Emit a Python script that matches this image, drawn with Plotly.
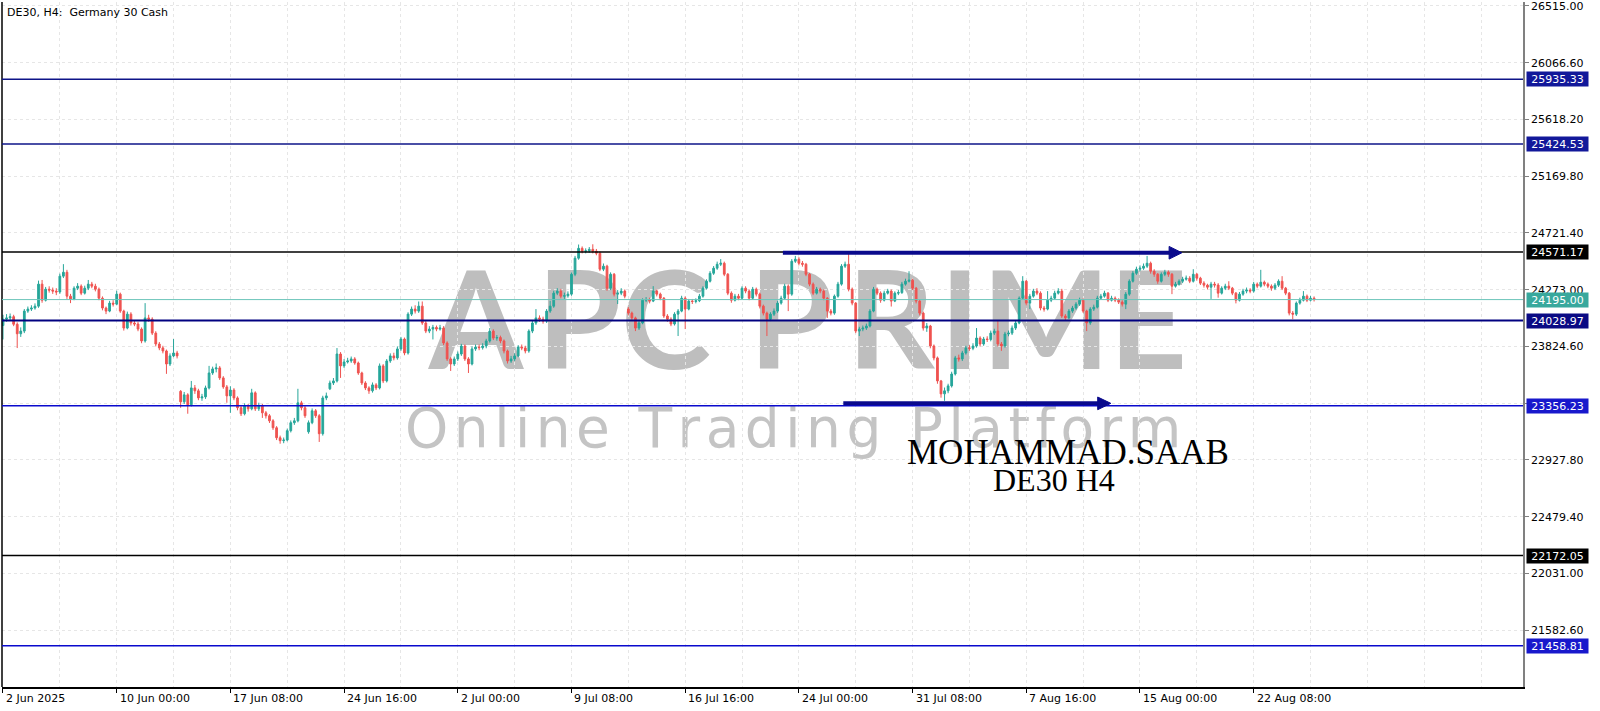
import plotly.graph_objects as go

# ---------------- data (DE30 H4, bar index 0 = 2 Jun 2025 16:00) ----------------
closes = [
    24040, 24050, 24060, 24000, 23925, 23946, 24104, 24120, 24128, 24143,
    24317, 24190, 24277, 24270, 24262, 24255, 24380, 24411, 24222, 24200,
    24285, 24301, 24246, 24285, 24317, 24301, 24277, 24206, 24128, 24104,
    24167, 24159, 24238, 24104, 23970, 24080, 24010, 24002, 23962, 23868,
    24050, 24040, 23930, 23844, 23813, 23789, 23686, 23750, 23773, 23750,
    23387, 23442, 23364, 23497, 23474, 23418, 23426, 23497, 23615, 23647,
    23655, 23576, 23505, 23434, 23480, 23418, 23340, 23293, 23356, 23332,
    23458, 23332, 23356, 23300, 23277, 23237, 23182, 23103, 23080, 23085,
    23159, 23222, 23237, 23379, 23340, 23277, 23222, 23316, 23277, 23135,
    23418, 23434, 23536, 23552, 23765, 23671, 23702, 23710, 23726, 23694,
    23615, 23536, 23497, 23474, 23521, 23497, 23671, 23552, 23710, 23750,
    23734, 23805, 23883, 23773, 24080, 24120, 24104, 24143, 24010, 23946,
    23962, 23975, 23962, 23970, 23852, 23726, 23686, 23726, 23765, 23828,
    23726, 23686, 23805, 23820, 23815, 23828, 23868, 23946, 23891, 23895,
    23868, 23789, 23710, 23726, 23750, 23820, 23813, 23789, 23946, 24010,
    24050, 24040, 24025, 24104, 24143, 24246, 24262, 24222, 24225, 24238,
    24395, 24522, 24600, 24577, 24580, 24592, 24577, 24561, 24435, 24459,
    24285, 24395, 24238, 24246, 24262, 24222, 24088, 24050, 23970, 24010,
    24190, 24195, 24183, 24262, 24238, 24206, 24065, 24040, 24002, 24080,
    24104, 24206, 24120, 24183, 24180, 24186, 24222, 24285, 24340, 24403,
    24443, 24474, 24482, 24395, 24246, 24190, 24222, 24206, 24285, 24262,
    24206, 24277, 24238, 24143, 24088, 24040, 24080, 24104, 24167, 24206,
    24301, 24238, 24498, 24514, 24482, 24474, 24395, 24317, 24246, 24277,
    24262, 24206, 24104, 24088, 24222, 24317, 24459, 24474, 24277, 24167,
    23946, 23962, 23970, 23986, 24104, 24277, 24246, 24190, 24246, 24262,
    24183, 24246, 24250, 24317, 24340, 24348, 24285, 24183, 24088, 23970,
    23986, 23828, 23734, 23552, 23450, 23474, 23513, 23607, 23734, 23726,
    23773, 23813, 23810, 23828, 23891, 23844, 23883, 23880, 23930, 23946,
    23844, 23828, 23923, 23930, 23970, 24010, 24206, 24340, 24167, 24222,
    24262, 24246, 24128, 24120, 24190, 24206, 24246, 24262, 24065, 24050,
    24104, 24128, 24159, 24190, 24104, 24010, 24120, 24135, 24206, 24222,
    24246, 24190, 24206, 24190, 24175, 24159, 24238, 24340, 24403, 24435,
    24443, 24459, 24482, 24419, 24395, 24340, 24395, 24411, 24395, 24301,
    24317, 24340, 24356, 24364, 24340, 24395, 24364, 24325, 24309, 24293,
    24317, 24310, 24246, 24285, 24301, 24285, 24246, 24190, 24238, 24262,
    24270, 24262, 24317, 24301, 24332, 24317, 24301, 24285, 24309, 24340,
    24285, 24246, 24088, 24080, 24167, 24190, 24222, 24190, 24206, 24195,
]
highs = [
    24075, 24080, 24085, 24075, 24015, 23975, 24120, 24140, 24150, 24165,
    24345, 24350, 24295, 24300, 24290, 24285, 24400, 24475, 24430, 24240,
    24300, 24325, 24315, 24305, 24350, 24335, 24320, 24290, 24220, 24140,
    24185, 24190, 24265, 24250, 24115, 24100, 24095, 24030, 24020, 23975,
    24167, 24075, 24055, 23945, 23860, 23830, 23800, 23770, 23883, 23790,
    23480, 23465, 23455, 23552, 23520, 23490, 23450, 23515, 23671, 23665,
    23690, 23670, 23590, 23520, 23510, 23495, 23430, 23355, 23375, 23370,
    23490, 23470, 23380, 23370, 23315, 23290, 23250, 23195, 23120, 23105,
    23175, 23240, 23260, 23490, 23395, 23355, 23240, 23335, 23330, 23290,
    23435, 23460, 23555, 23575, 23812, 23780, 23725, 23735, 23745, 23740,
    23705, 23625, 23550, 23510, 23540, 23535, 23690, 23685, 23725, 23770,
    23775, 23825, 23900, 23895, 24095, 24140, 24150, 24180, 24180, 24025,
    23985, 23995, 23990, 23995, 23985, 23865, 23740, 23745, 23785, 23845,
    23840, 23740, 23825, 23840, 23840, 23850, 23885, 23970, 23960, 23915,
    23910, 23880, 23800, 23750, 23770, 23835, 23840, 23830, 23960, 24030,
    24120, 24070, 24060, 24120, 24185, 24265, 24285, 24280, 24250, 24260,
    24410, 24540, 24630, 24615, 24600, 24610, 24632, 24595, 24575, 24480,
    24470, 24410, 24405, 24270, 24285, 24275, 24135, 24100, 24060, 24030,
    24205, 24215, 24210, 24301, 24275, 24250, 24215, 24080, 24055, 24095,
    24120, 24225, 24220, 24200, 24200, 24205, 24240, 24300, 24355, 24420,
    24460, 24495, 24515, 24495, 24405, 24260, 24240, 24240, 24300, 24300,
    24275, 24295, 24290, 24250, 24155, 24100, 24095, 24125, 24185, 24225,
    24320, 24315, 24515, 24540, 24530, 24500, 24485, 24405, 24330, 24295,
    24290, 24275, 24215, 24120, 24235, 24335, 24475, 24495, 24569, 24290,
    24175, 23980, 23990, 24005, 24120, 24295, 24290, 24260, 24265, 24280,
    24275, 24260, 24270, 24335, 24360, 24419, 24360, 24295, 24195, 24100,
    24010, 23995, 23840, 23745, 23560, 23500, 23530, 23625, 23750, 23760,
    23790, 23830, 23835, 23850, 23970, 23905, 23900, 23905, 23950, 23965,
    24025, 23860, 23940, 23950, 23990, 24030, 24220, 24380, 24350, 24240,
    24280, 24285, 24260, 24145, 24262, 24225, 24265, 24285, 24280, 24080,
    24120, 24145, 24175, 24210, 24205, 24115, 24135, 24155, 24225, 24240,
    24265, 24255, 24225, 24220, 24205, 24190, 24255, 24355, 24420, 24455,
    24465, 24480, 24540, 24495, 24435, 24405, 24410, 24430, 24425, 24405,
    24335, 24355, 24375, 24385, 24380, 24435, 24405, 24375, 24340, 24320,
    24335, 24335, 24325, 24300, 24320, 24340, 24295, 24255, 24255, 24280,
    24290, 24285, 24335, 24330, 24430, 24345, 24330, 24315, 24325, 24355,
    24380, 24295, 24255, 24105, 24180, 24210, 24262, 24235, 24225, 24220,
]
lows = [
    23880, 24020, 24030, 23985, 23812, 23900, 23930, 24090, 24105, 24115,
    24130, 24170, 24180, 24250, 24240, 24230, 24240, 24365, 24200, 24167,
    24190, 24270, 24230, 24235, 24270, 24285, 24260, 24190, 24110, 24080,
    24095, 24140, 24150, 24090, 23950, 23960, 23990, 23985, 23945, 23850,
    23855, 24020, 23915, 23825, 23795, 23770, 23608, 23670, 23740, 23730,
    23340, 23370, 23293, 23350, 23450, 23400, 23395, 23410, 23485, 23600,
    23620, 23560, 23490, 23380, 23300, 23400, 23320, 23275, 23280, 23310,
    23320, 23315, 23315, 23260, 23255, 23220, 23165, 23085, 23056, 23060,
    23075, 23145, 23205, 23225, 23320, 23260, 23135, 23210, 23260, 23070,
    23120, 23400, 23480, 23520, 23540, 23576, 23655, 23690, 23695, 23680,
    23600, 23520, 23480, 23450, 23460, 23480, 23485, 23535, 23540, 23695,
    23715, 23720, 23790, 23755, 23760, 24065, 24085, 24090, 23995, 23930,
    23930, 23880, 23945, 23950, 23835, 23710, 23631, 23670, 23710, 23750,
    23710, 23615, 23675, 23790, 23795, 23800, 23810, 23855, 23875, 23870,
    23850, 23770, 23690, 23695, 23710, 23740, 23795, 23770, 23775, 23930,
    23995, 24020, 24005, 24010, 24090, 24130, 24230, 24205, 24200, 24210,
    24225, 24380, 24510, 24560, 24560, 24565, 24560, 24545, 24420, 24420,
    24265, 24270, 24220, 24160, 24230, 24205, 24070, 24035, 23946, 23955,
    24000, 24175, 24165, 24175, 24220, 24190, 24050, 24020, 23985, 23990,
    23907, 24095, 23962, 24110, 24160, 24165, 24175, 24210, 24275, 24330,
    24390, 24430, 24460, 24380, 24230, 24170, 24180, 24190, 24195, 24245,
    24190, 24195, 24220, 24125, 24070, 23907, 24025, 24065, 24090, 24155,
    24195, 24104, 24225, 24485, 24465, 24455, 24380, 24300, 24230, 24235,
    24245, 24190, 24050, 24070, 24075, 24210, 24305, 24445, 24260, 24150,
    23930, 23907, 23945, 23955, 23975, 24095, 24230, 24170, 24180, 24235,
    24140, 24175, 24230, 24240, 24305, 24330, 24270, 24165, 24070, 23950,
    23940, 23810, 23715, 23530, 23420, 23395, 23455, 23500, 23595, 23705,
    23710, 23760, 23790, 23795, 23815, 23825, 23830, 23860, 23865, 23915,
    23825, 23790, 23815, 23905, 23915, 23955, 24000, 24195, 24150, 24120,
    24210, 24230, 24110, 24100, 24110, 24175, 24195, 24235, 24050, 24030,
    24040, 24090, 24115, 24145, 24090, 23946, 23995, 24105, 24125, 24195,
    24210, 24175, 24180, 24175, 24160, 24140, 24120, 24225, 24330, 24390,
    24420, 24430, 24445, 24400, 24375, 24320, 24330, 24380, 24375, 24238,
    24290, 24305, 24325, 24345, 24325, 24330, 24345, 24310, 24290, 24275,
    24200, 24290, 24210, 24235, 24270, 24270, 24230, 24165, 24180, 24225,
    24245, 24245, 24250, 24285, 24290, 24300, 24285, 24265, 24270, 24295,
    24270, 24230, 24070, 24040, 24065, 24155, 24180, 24175, 24180, 24180,
]
first_open = 23990
gap_opens = {50: 23470, 86: 23150, 92: 23490, 176: 24120}

x_label_idx = [0, 32, 64, 96, 128, 160, 192, 224, 256, 288, 320, 352]
x_label_txt = ["2 Jun 2025", "10 Jun 00:00", "17 Jun 08:00", "24 Jun 16:00",
               "2 Jul 00:00", "9 Jul 08:00", "16 Jul 16:00", "24 Jul 00:00",
               "31 Jul 08:00", "7 Aug 16:00", "15 Aug 00:00", "22 Aug 08:00"]
x_grid_idx = list(range(16, 428, 16))

y_ticks = [21582.60, 22031.00, 22479.40, 22927.80, 23376.20, 23824.60,
           24273.00, 24721.40, 25169.80, 25618.20, 26066.60, 26515.00]

levels = [25935.33, 25424.53, 24571.17, 24195.00, 24028.97, 23356.23, 22172.05, 21458.81]
level_line_colors = ["#0E1488", "#0E1488", "#000000", "#6CC5BA", "#000080", "#0A0ACD", "#000000", "#0A0ACD"]
level_box_colors = ["#12189A", "#12189A", "#000000", "#38A89D", "#0A0A84", "#1818CC", "#000000", "#1818CC"]
level_widths = [1.5, 1.5, 1.5, 1, 2, 1.5, 1.5, 1.5]

# arrows: (price level, start bar, arrow-head start bar, tip bar)
arrow_up = (24565, 219.5, 328.2, 331.8)
arrow_down = (23375, 236.5, 308.1, 311.8)
arrow_color = "#0A0A8C"
arrow_half_height = 50

# watermark text
wm_word = "APCPRIME"
wm_centers_px = [476, 579, 666, 791, 891, 960, 1046, 1148]
wm_sub = "Online Trading Platform"

# ---------------- helpers ----------------
PLOT_L, PLOT_W, PLOT_H = 2, 1521, 687


def px_x(px):
    return (px - PLOT_L) / PLOT_W


def px_y(py):
    return (PLOT_H - py) / PLOT_H


# ---------------- build ----------------
idx = list(range(len(closes)))
opens = []
for i in idx:
    if i in gap_opens:
        opens.append(gap_opens[i])
    elif i == 0:
        opens.append(first_open)
    else:
        opens.append(closes[i - 1])

fig = go.Figure()
fig.add_trace(go.Candlestick(
    x=idx, open=opens, high=highs, low=lows, close=closes,
    increasing=dict(line=dict(color="#26A69A", width=1), fillcolor="#26A69A"),
    decreasing=dict(line=dict(color="#EF5350", width=1), fillcolor="#EF5350"),
    whiskerwidth=0, showlegend=False, hoverinfo="skip",
))

shapes = []
# watermark letters (below data)
for ch, cx in zip(wm_word, wm_centers_px):
    shapes.append(dict(type="rect", xref="paper", yref="paper",
                       x0=px_x(cx - 70), x1=px_x(cx + 70), y0=px_y(370), y1=px_y(256),
                       line=dict(width=0), fillcolor="rgba(0,0,0,0)", layer="below",
                       label=dict(text=ch, textposition="middle center",
                                  font=dict(family="Lato", size=136, color="#BEBEBE", weight="bold"))))
# subtitle watermark, letter by letter with tracking
dv_widths = {"O": 0.787, "n": 0.634, "l": 0.278, "i": 0.278, "e": 0.615, " ": 0.318,
             "T": 0.611, "r": 0.411, "a": 0.613, "d": 0.635, "g": 0.635, "P": 0.603,
             "t": 0.392, "f": 0.352, "o": 0.612, "m": 0.974}
sub_size, sub_track, cursor = 55, 5.5, 405.0
for ch in wm_sub:
    w = dv_widths[ch] * sub_size
    if ch != " ":
        c = cursor + w / 2
        shapes.append(dict(type="rect", xref="paper", yref="paper",
                           x0=px_x(c - 30), x1=px_x(c + 30), y0=px_y(453), y1=px_y(393),
                           line=dict(width=0), fillcolor="rgba(0,0,0,0)", layer="below",
                           label=dict(text=ch, textposition="middle center",
                                      font=dict(family="DejaVu Sans", size=sub_size,
                                                color="#C4C4C4"))))
    cursor += w + sub_track
# left border
shapes.append(dict(type="line", xref="paper", yref="paper", x0=0, x1=0, y0=0, y1=1,
                   line=dict(color="#000000", width=1.5), layer="above"))
# level lines
for lv, lc, lw in zip(levels, level_line_colors, level_widths):
    shapes.append(dict(type="line", xref="paper", yref="y", x0=0, x1=1, y0=lv, y1=lv,
                       line=dict(color=lc, width=lw), layer="above"))
# arrows
for lvl, xs, xh, xt in (arrow_up, arrow_down):
    shapes.append(dict(type="line", xref="x", yref="y", x0=xs, x1=xh + 0.5, y0=lvl, y1=lvl,
                       line=dict(color=arrow_color, width=4), layer="above"))
    shapes.append(dict(type="path", xref="x", yref="y",
                       path=f"M {xh},{lvl - arrow_half_height} L {xt},{lvl} L {xh},{lvl + arrow_half_height} Z",
                       fillcolor=arrow_color, line=dict(color=arrow_color, width=1), layer="above"))

annotations = []
annotations.append(dict(xref="paper", yref="paper", x=0, y=px_y(11), xshift=3,
                        xanchor="left", yanchor="middle", showarrow=False,
                        text="DE30, H4:\u00a0 Germany 30 Cash",
                        font=dict(family="DejaVu Sans", size=11, color="#000000")))
for xi, tx in zip(x_label_idx, x_label_txt):
    annotations.append(dict(xref="x", yref="paper", x=xi, y=px_y(699), xshift=1,
                            xanchor="left", yanchor="middle", showarrow=False, text=tx,
                            font=dict(family="DejaVu Sans", size=11, color="#000000")))
for lv, bc in zip(levels, level_box_colors):
    annotations.append(dict(xref="paper", yref="y", x=1, y=lv, xshift=3,
                            xanchor="left", yanchor="middle", showarrow=False,
                            text=f"{lv:.2f}", bgcolor=bc, width=59, height=12, borderpad=1,
                            align="center",
                            font=dict(family="DejaVu Sans", size=11, color="#FFFFFF")))
annotations.append(dict(xref="paper", yref="paper", x=px_x(1068), y=px_y(452), showarrow=False,
                        xanchor="center", yanchor="middle", text="MOHAMMAD.SAAB",
                        font=dict(family="Liberation Serif", size=35, color="#000000")))
annotations.append(dict(xref="paper", yref="paper", x=px_x(1054), y=px_y(479), showarrow=False,
                        xanchor="center", yanchor="middle", text="DE30 H4",
                        font=dict(family="Liberation Serif", size=32, color="#000000")))

fig.update_layout(
    width=1600, height=711,
    margin=dict(l=2, r=77, t=0, b=24, pad=0),
    paper_bgcolor="#FFFFFF", plot_bgcolor="#FFFFFF",
    showlegend=False,
    shapes=shapes, annotations=annotations,
    xaxis=dict(range=[-0.28, 427.8], rangeslider=dict(visible=False),
               tickmode="array", tickvals=x_label_idx, ticktext=[""] * len(x_label_idx),
               ticks="outside", ticklen=4, tickcolor="#000000",
               showline=True, linecolor="#000000", linewidth=1.5,
               showgrid=True, gridcolor="#E6E6E6", griddash="dot", gridwidth=1,
               zeroline=False, fixedrange=True,
               minor=dict(tickmode="array", tickvals=x_grid_idx, showgrid=True,
                          gridcolor="#E6E6E6", griddash="dot", gridwidth=1, ticks="")),
    yaxis=dict(side="right", range=[21133.6, 26546.5],
               tickmode="array", tickvals=y_ticks, ticktext=[f"{v:.2f}" for v in y_ticks],
               ticks="outside", ticklen=4, tickcolor="#808080", ticklabeloverflow="allow",
               showline=True, linecolor="#808080", linewidth=1.5,
               showgrid=True, gridcolor="#E6E6E6", griddash="dot", gridwidth=1,
               zeroline=False, fixedrange=True,
               tickfont=dict(family="DejaVu Sans", size=11, color="#000000")),
)

fig.write_html("out.html", config={"displayModeBar": False},
               post_script="document.body.style.margin='0';document.body.style.overflow='hidden';")
